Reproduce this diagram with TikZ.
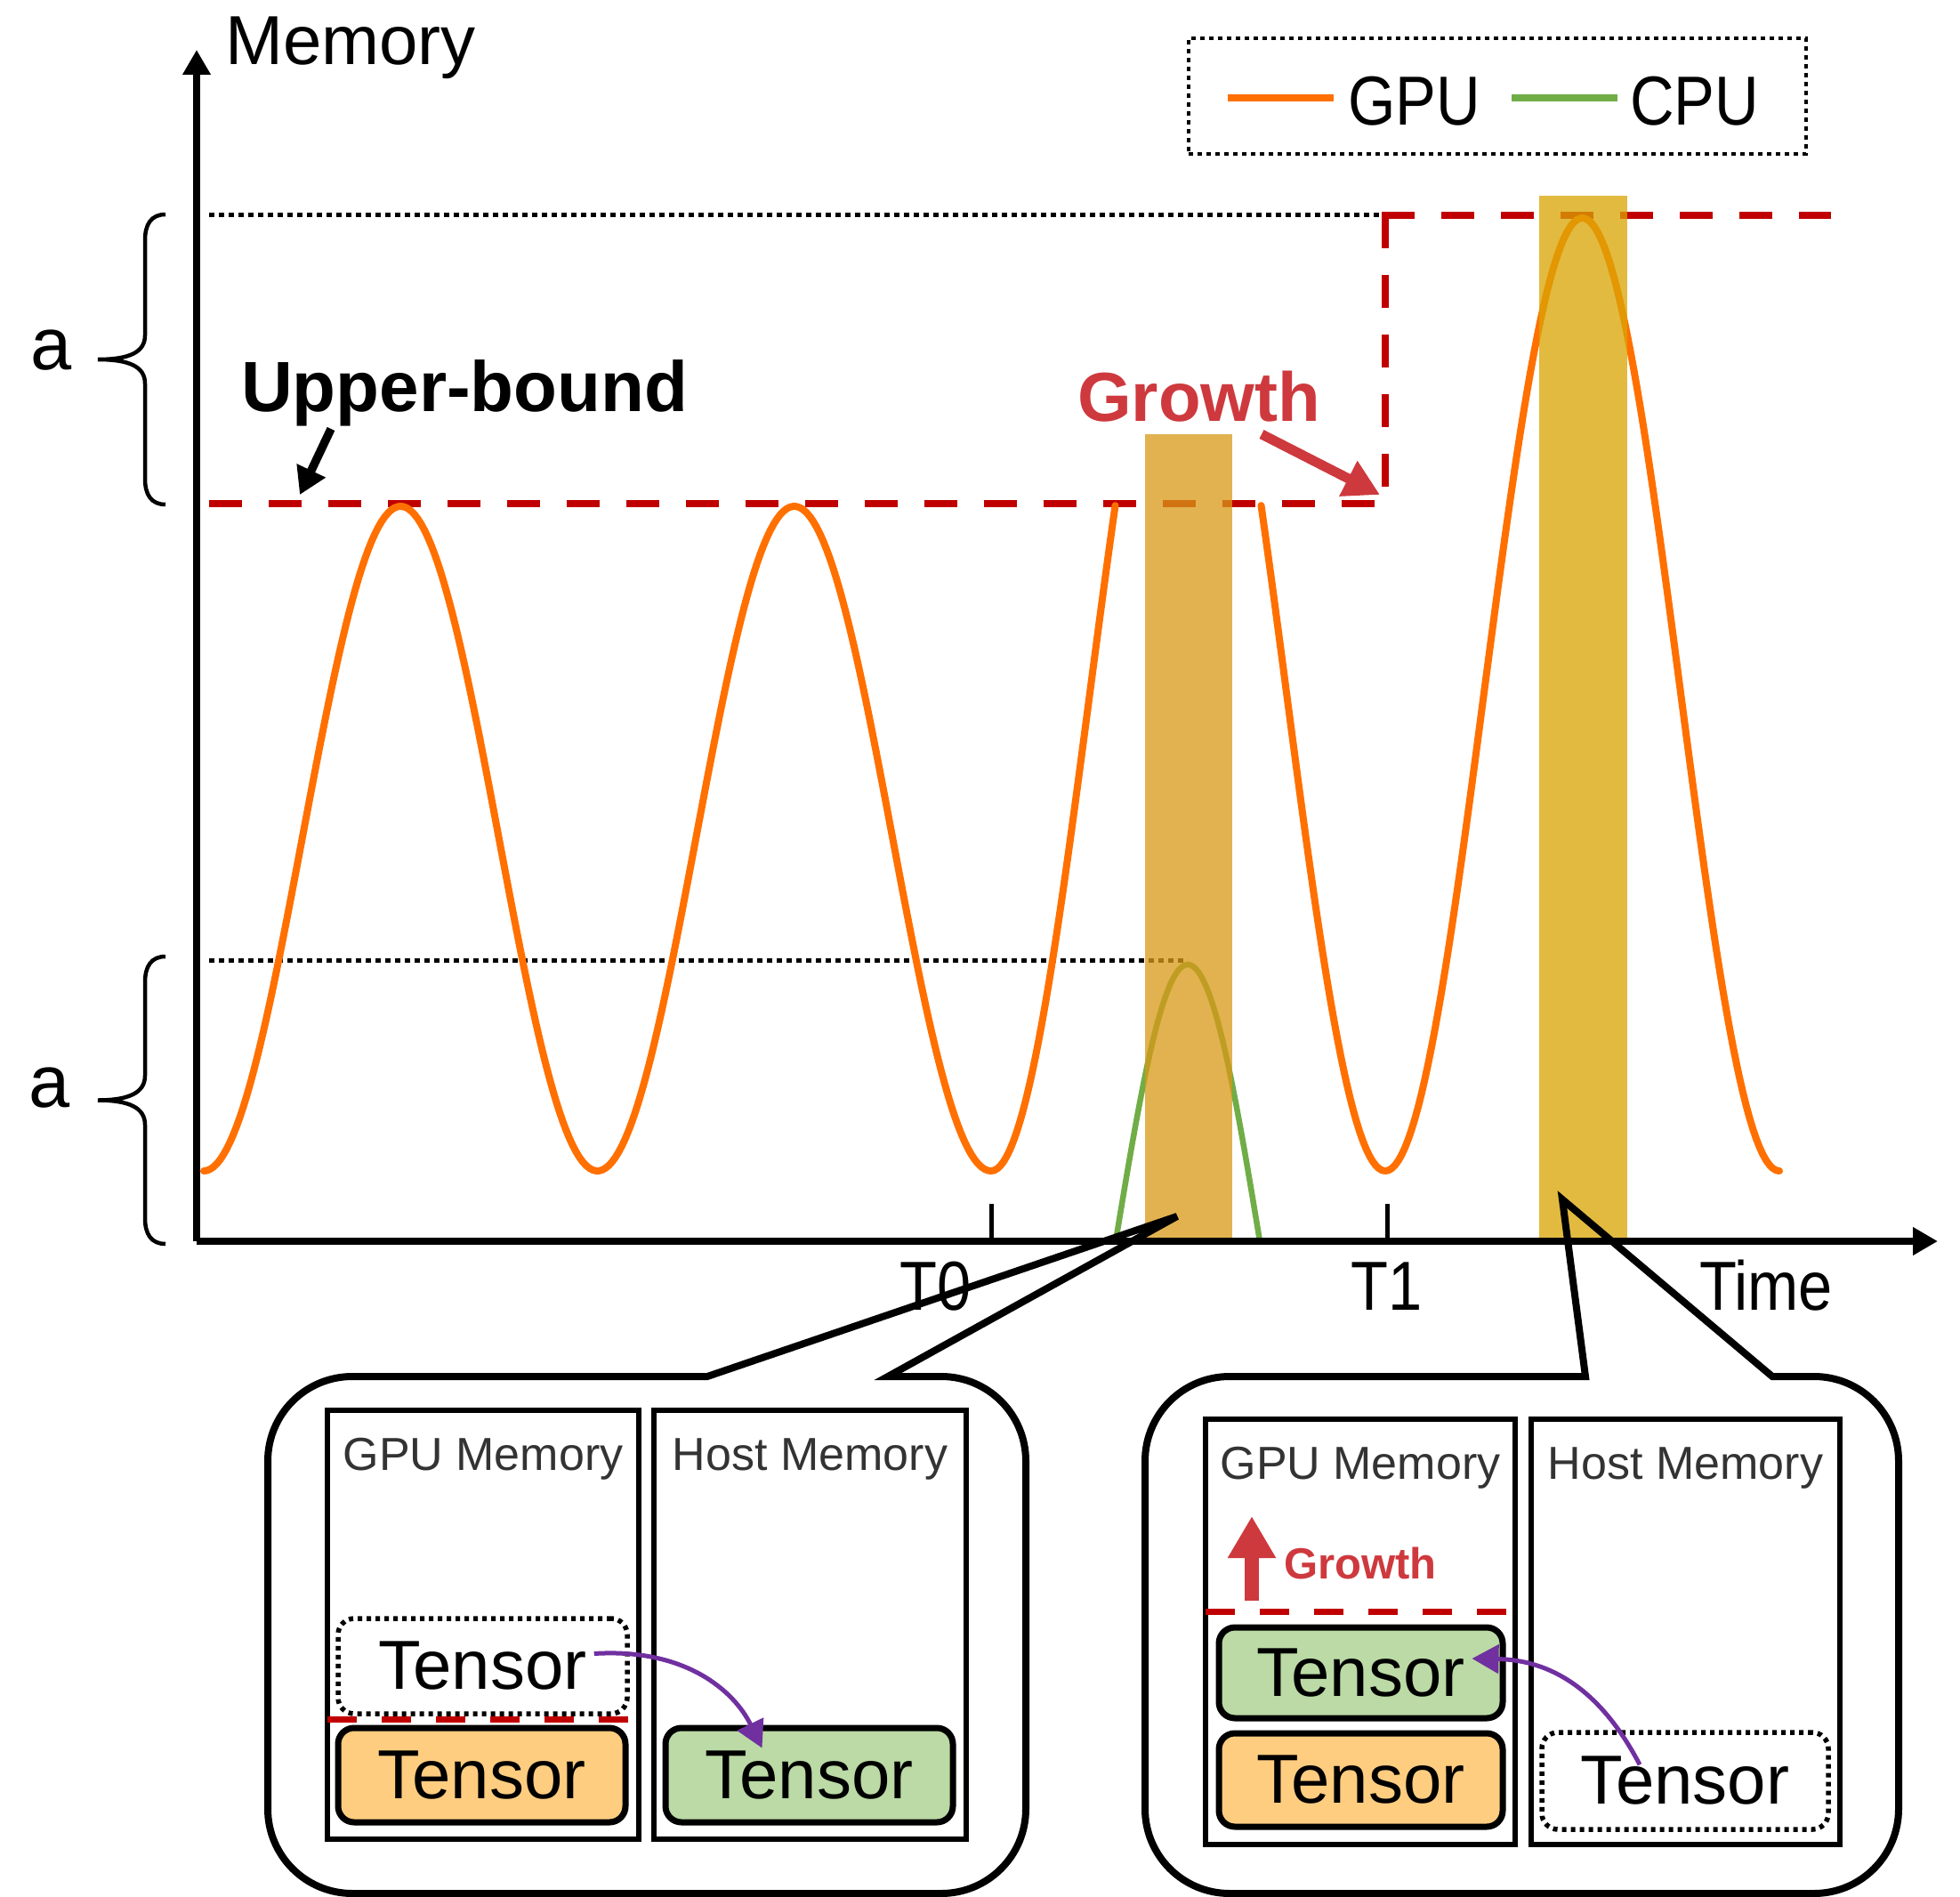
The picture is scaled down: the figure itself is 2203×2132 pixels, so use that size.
\documentclass[tikz,border=0pt]{standalone}
\usepackage{fontspec}
\setmainfont{Liberation Sans}
\newfontfamily\narrowfont[FakeStretch=0.88]{Liberation Sans}
\usetikzlibrary{arrows.meta,calc}
\definecolor{gpuor}{RGB}{255,112,0}
\definecolor{cpugr}{RGB}{112,173,71}
\definecolor{dred}{RGB}{192,0,0}
\definecolor{grred}{RGB}{206,57,62}
\definecolor{purp}{RGB}{112,48,160}
\definecolor{barA}{RGB}{217,153,24}
\definecolor{barB}{RGB}{217,164,4}
\definecolor{tor}{RGB}{255,205,128}
\definecolor{tgr}{RGB}{187,218,165}
\definecolor{memgray}{RGB}{51,51,51}
\begin{document}
\begin{tikzpicture}[x=1pt,y=-1pt,
  bigtxt/.style={font=\fontsize{78}{90}\selectfont, inner sep=0pt},
  narrowtxt/.style={font=\narrowfont\fontsize{78}{90}\selectfont, inner sep=0pt},
  boldtxt/.style={font=\fontsize{80}{92}\selectfont\bfseries, inner sep=0pt},
  memtxt/.style={font=\fontsize{52}{60}\selectfont, text=memgray, inner sep=0pt, anchor=base},
  membox/.style={draw, line width=6pt, inner sep=0pt},
  tensorbox/.style={draw, line width=7pt, rounded corners=18pt, inner sep=0pt, font=\fontsize{78}{90}\selectfont},
  ghostbox/.style={draw, line width=5.5pt, dash pattern=on 5pt off 5pt, rounded corners=18pt, inner sep=0pt, font=\fontsize{78}{90}\selectfont},
  dotline/.style={line width=5pt, dash pattern=on 6pt off 5pt},
  reddash/.style={draw=dred, line width=8pt, dash pattern=on 37pt off 30pt},
  smalldash/.style={draw=dred, line width=7pt, dash pattern=on 33pt off 28pt},
  gpucurve/.style={draw=gpuor, line width=8pt, line cap=round, line join=round},
  cpucurve/.style={draw=cpugr, line width=6.5pt, line cap=round, line join=round},
  braceline/.style={line width=4.5pt},
  callout/.style={draw, line width=8pt, line join=miter},
  purparrow/.style={draw=purp, line width=5pt, -{Triangle[length=30pt,width=32pt]}}
]
\useasboundingbox (0,0) rectangle (2203,2132);

% reference lines
\draw[dotline] (235,242) -- (1553,242);
\draw[dotline] (235,1079) -- (1335,1079);
\draw[reddash] (1553,242) -- (2058,242);
\draw[reddash] (1557,242) -- (1557,551);
\draw[reddash] (235,566) -- (1546,566);

% GPU curve
\draw[gpucurve] plot[domain=229:1114, samples=240] (\x, {1316-747*(1-cos((\x-229)/442.5*360))/2})
  -- plot[domain=1114:1253.5, samples=40] (\x, {1316-1071*(1-cos((\x-1114)/443*360))/2});
\draw[gpucurve] plot[domain=1417.5:1557, samples=40] (\x, {1316-1071*(1-cos((\x-1114)/443*360))/2})
  -- plot[domain=1557:2000, samples=120] (\x, {1316-1071*(1-cos((\x-1557)/443*360))/2});
% CPU curve
\draw[cpucurve] plot[domain=1254:1416, samples=60] (\x, {1084+311*(1-cos((\x-1335)/162*180))});

% highlighted bars
\fill[barA, opacity=0.755] (1287,488) rectangle (1385,1395);
\fill[barB, opacity=0.76] (1730,220) rectangle (1829,1395);

% axes
\coordinate (O) at (221,1395);
\draw[line width=8pt, -{Triangle[length=28pt,width=30pt]}] (O) -- (221,56);
\draw[line width=8pt, -{Triangle[length=28pt,width=30pt]}] (O) -- (2178,1395);
\draw[line width=5pt] (1114,1353) -- (1114,1395);
\draw[line width=5pt] (1559,1353) -- (1559,1395);

\node[bigtxt, anchor=base west] (memlab) at (253,73) {Memory};
\node[narrowtxt, anchor=base] (t0) at (1052,1472) {T0};
\node[narrowtxt, anchor=base] (t1) at (1559,1472) {T1};
\node[narrowtxt, anchor=base] (timelab) at (1985,1472) {Time};

% braces
\draw[braceline] (186,241) .. controls (170,241) and (163,252) .. (163,270) -- (163,377)
  .. controls (163,396) and (145,404) .. (110,404) .. controls (145,404) and (163,412) .. (163,431)
  -- (163,538) .. controls (163,556) and (170,567) .. (186,567);
\draw[braceline] (186,1075) .. controls (170,1075) and (163,1086) .. (163,1104) -- (163,1209)
  .. controls (163,1228) and (145,1236.5) .. (110,1236.5) .. controls (145,1236.5) and (163,1245) .. (163,1264)
  -- (163,1369) .. controls (163,1387) and (170,1398) .. (186,1398);
\node[font=\fontsize{83}{95}\selectfont, inner sep=0pt] (aup) at (58,394) {a};
\node[font=\fontsize{83}{95}\selectfont, inner sep=0pt] (alow) at (56,1223) {a};

% legend
\node[draw, line width=4pt, dash pattern=on 5pt off 5pt, minimum width=694pt, minimum height=130pt, inner sep=0pt] (legend) at (1683,108) {};
\draw[draw=gpuor, line width=8pt] (1380,110) -- (1499,110);
\node[narrowtxt, anchor=base west] (gpulab) at (1515,141) {GPU};
\draw[draw=cpugr, line width=8pt] (1699,110) -- (1818,110);
\node[narrowtxt, anchor=base west] (cpulab) at (1832,141) {CPU};

% upper bound label and arrow
\node[boldtxt, anchor=base west] (ub) at (271,462) {Upper-bound};
\coordinate (ubtip) at (337,556);
\draw[line width=9.5pt, -{Triangle[length=30pt,width=34pt]}] (372,482) -- (ubtip);

% growth label and arrow
\node[boldtxt, text=grred, font=\fontsize{78}{90}\selectfont\bfseries, anchor=base west] (gr) at (1211,473) {Growth};
\coordinate (grtip) at (1551,556);
\draw[draw=grred, line width=11pt, -{Triangle[length=40pt,width=42pt]}] (1418,488) -- (grtip);

% callout 1
\draw[callout] (795,1547) -- (1323,1367) -- (998,1547) -- (1058,1547)
  .. controls (1110.5,1547) and (1153,1589.5) .. (1153,1642) -- (1153,2033)
  .. controls (1153,2085.5) and (1110.5,2128) .. (1058,2128) -- (396,2128)
  .. controls (343.5,2128) and (301,2085.5) .. (301,2033) -- (301,1642)
  .. controls (301,1589.5) and (343.5,1547) .. (396,1547) -- cycle;
% callout 2
\draw[callout] (1782,1547) -- (1756,1348) -- (1992,1547) -- (2039,1547)
  .. controls (2091.5,1547) and (2134,1589.5) .. (2134,1642) -- (2134,2033)
  .. controls (2134,2085.5) and (2091.5,2128) .. (2039,2128) -- (1382,2128)
  .. controls (1329.5,2128) and (1287,2085.5) .. (1287,2033) -- (1287,1642)
  .. controls (1287,1589.5) and (1329.5,1547) .. (1382,1547) -- cycle;

% bubble 1 content
\node[membox, minimum width=350pt, minimum height=482pt] (gpu1) at (543,1826) {};
\node[membox, minimum width=351pt, minimum height=482pt] (host1) at (910.5,1826) {};
\node[memtxt] (gpu1t) at (543,1652) {GPU Memory};
\node[memtxt] (host1t) at (910.5,1652) {Host Memory};
\node[ghostbox, minimum width=325pt, minimum height=107pt] (ghost1) at (542.5,1872.5) {Tensor};
\draw[smalldash] (368,1932) -- (712,1932);
\node[tensorbox, fill=tor, minimum width=323pt, minimum height=106pt] (or1) at (541.5,1995) {Tensor};
\node[tensorbox, fill=tgr, minimum width=323pt, minimum height=106pt] (gr1) at (909.5,1995) {Tensor};
\draw[purparrow] ($(ghost1.east)+(-40,-14)$) .. controls (770,1852) and (825,1900) .. ($(gr1.north)+(-53,26)$);

% bubble 2 content
\node[membox, minimum width=348pt, minimum height=478pt] (gpu2) at (1529,1834) {};
\node[membox, minimum width=347pt, minimum height=478pt] (host2) at (1894.5,1834) {};
\node[memtxt] (gpu2t) at (1529,1662) {GPU Memory};
\node[memtxt] (host2t) at (1894.5,1662) {Host Memory};
\draw[draw=grred, line width=16pt, -{Triangle[length=47pt,width=51pt]}] (1407,1799) -- (1407,1704);
\node[font=\fontsize{49}{56}\selectfont\bfseries, text=grred, inner sep=0pt, anchor=base west] (gr2) at (1443,1774) {Growth};
\draw[smalldash] (1355,1811) -- (1697,1811);
\node[tensorbox, fill=tgr, minimum width=319pt, minimum height=102pt] (gr2b) at (1529.5,1880) {Tensor};
\node[tensorbox, fill=tor, minimum width=319pt, minimum height=105pt] (or2) at (1529.5,2000.5) {Tensor};
\node[ghostbox, minimum width=322pt, minimum height=109pt] (ghost2) at (1894,2001.5) {Tensor};
\draw[purparrow] ($(ghost2.north)+(-51,39)$) .. controls (1810,1920) and (1760,1866) .. ($(gr2b.east)+(-38,-16)$);

\end{tikzpicture}
\end{document}
